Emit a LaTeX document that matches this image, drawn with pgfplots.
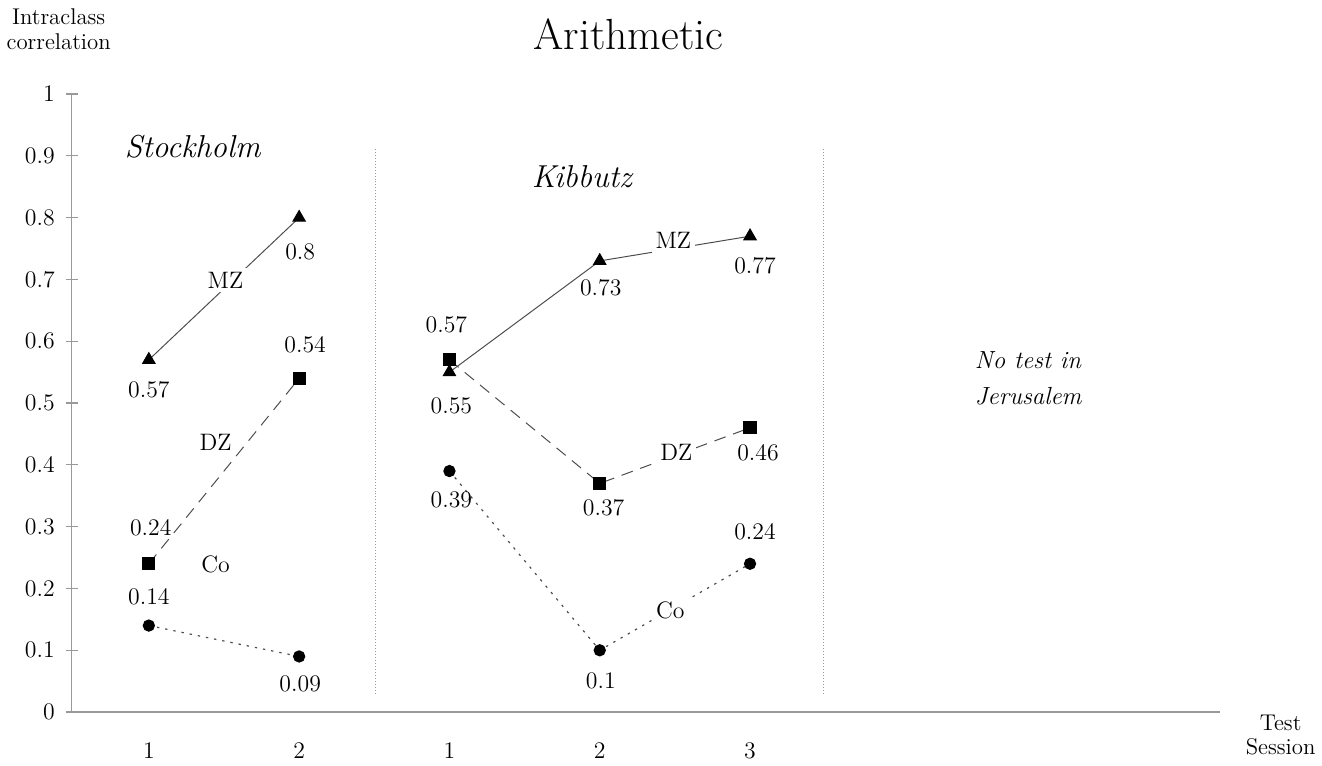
\documentclass[border=0pt]{standalone}
\usepackage{pgfplots}
\pgfplotsset{compat=1.18}
\begin{document}
\begin{tikzpicture}
\begin{axis}[
  scale only axis, width=580pt, height=312pt,
  xmin=-0.514, xmax=7.13, ymin=0, ymax=1,
  axis lines=left, axis line style={-, draw=gray!80, line width=0.8pt},
  clip=false,
  xtick={0,1,2,3,4}, xticklabels={1,2,1,2,3},
  x tick style={draw=none},
  ytick={0,0.1,...,1.01},
  yticklabels={0,0.1,0.2,0.3,0.4,0.5,0.6,0.7,0.8,0.9,1},
  y tick style={draw=gray!80, line width=0.6pt},
  tick align=center, major tick length=6pt,
  tick label style={font=\fontsize{12}{14}\selectfont},
  xticklabel style={yshift=-9pt},
  yticklabel style={xshift=-2pt},
]
% bounding box
\path (rel axis cs:-0.0603,-0.0689) rectangle (rel axis cs:1.0793,1.1522);
% separators
\draw[densely dotted, gray!80, line width=0.5pt] (axis cs:1.51,0.03) -- (axis cs:1.51,0.912);
\draw[densely dotted, gray!80, line width=0.5pt] (axis cs:4.49,0.03) -- (axis cs:4.49,0.912);
% Stockholm
\addplot[black!70, line width=0.5pt, mark=triangle*, mark size=3.6pt, mark options={solid, fill=black, draw=black}] coordinates {(0,0.57) (1,0.80)};
\addplot[black!70, line width=0.5pt, dash pattern=on 6pt off 4pt, mark=square*, mark size=3.1pt, mark options={solid, fill=black, draw=black}] coordinates {(0,0.24) (1,0.54)};
\addplot[black!70, line width=0.6pt, dash pattern=on 1.2pt off 3pt, mark=*, mark size=2.8pt, mark options={solid, fill=black, draw=black}] coordinates {(0,0.14) (1,0.09)};
% Kibbutz
\addplot[black!70, line width=0.5pt, mark=triangle*, mark size=3.6pt, mark options={solid, fill=black, draw=black}] coordinates {(2,0.55) (3,0.73) (4,0.77)};
\addplot[black!70, line width=0.5pt, dash pattern=on 6pt off 4pt, mark=square*, mark size=3.1pt, mark options={solid, fill=black, draw=black}] coordinates {(2,0.57) (3,0.37) (4,0.46)};
\addplot[black!70, line width=0.6pt, dash pattern=on 1.2pt off 3pt, mark=*, mark size=2.8pt, mark options={solid, fill=black, draw=black}] coordinates {(2,0.39) (3,0.10) (4,0.24)};
% value labels
\begin{scope}[every node/.style={font=\fontsize{12}{14}\selectfont, inner sep=0pt}]
\node at (axis cs:0,0.521) {0.57};
\node at (axis cs:1.007,0.745) {0.8};
\node at (axis cs:1.04,0.595) {0.54};
\node at (axis cs:0.013,0.298) {0.24};
\node at (axis cs:0,0.186) {0.14};
\node at (axis cs:1.007,0.046) {0.09};
\node at (axis cs:1.98,0.627) {0.57};
\node at (axis cs:2.013,0.495) {0.55};
\node at (axis cs:2.013,0.343) {0.39};
\node at (axis cs:3.007,0.686) {0.73};
\node at (axis cs:4.033,0.723) {0.77};
\node at (axis cs:3.026,0.330) {0.37};
\node at (axis cs:4.053,0.420) {0.46};
\node at (axis cs:3.007,0.050) {0.1};
\node at (axis cs:4.033,0.292) {0.24};
\end{scope}
\begin{scope}[every node/.style={font=\fontsize{12}{14}\selectfont, inner sep=2pt, fill=white}]
\node at (axis cs:0.51,0.699) {MZ};
\node at (axis cs:0.444,0.436) {DZ};
\node at (axis cs:0.444,0.239) {Co};
\node at (axis cs:3.49,0.763) {MZ};
\node at (axis cs:3.51,0.421) {DZ};
\node at (axis cs:3.47,0.165) {Co};
\end{scope}
% headings
\node[font=\fontsize{16}{19}\selectfont\itshape] at (axis cs:0.291,0.915) {Stockholm};
\node[font=\fontsize{16}{19}\selectfont\itshape] at (axis cs:2.881,0.867) {Kibbutz};
\node[font=\fontsize{12.5}{18}\selectfont\itshape, anchor=west, align=left] at (axis cs:5.45,0.54) {No test in\\Jerusalem};
\node[font=\fontsize{22}{26}\selectfont] at (axis cs:3.19,1.096) {Arithmetic};
\node[font=\fontsize{11.5}{12.5}\selectfont, align=center] at (axis cs:-0.60,1.105) {Intraclass\\correlation};
\node[font=\fontsize{11.5}{12.5}\selectfont, align=center] at (axis cs:7.53,-0.037) {Test\\Session};
\end{axis}
\end{tikzpicture}
\end{document}
